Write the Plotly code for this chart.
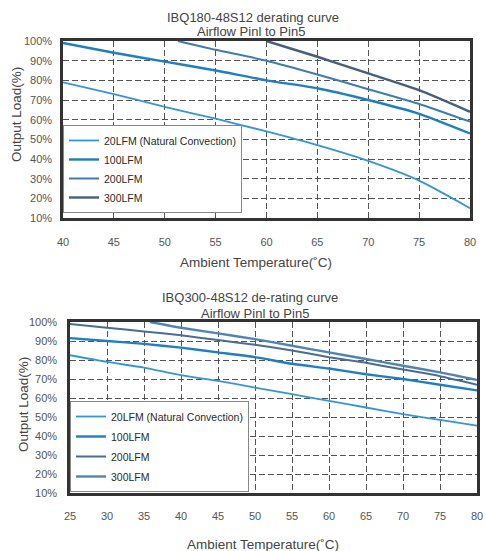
import plotly.graph_objects as go

W, H = 486, 551
OFF = 0  # body margin removed in the page (see post_script)

series_names = ["20LFM (Natural Convection)", "100LFM", "200LFM", "300LFM"]

# ---- Top chart: IBQ180-48S12 ----
top_x20 = [40, 45, 50, 55, 60, 65, 70, 75, 80]
top_y20 = [79, 73, 66.5, 60.5, 54, 47, 39, 29, 15]
top_x100 = [40, 45, 50, 55, 60, 65, 70, 75, 80]
top_y100 = [99, 94, 89.5, 85, 80, 76, 70, 63, 53]
top_x200 = [51.3, 55, 60, 65, 70, 75, 80]
top_y200 = [100, 95.5, 90, 83, 75.5, 68, 59]
top_x300 = [60, 65, 70, 75, 80]
top_y300 = [100, 92, 83.5, 75, 64]

# ---- Bottom chart: IBQ300-48S12 ----
bot_x20 = [25, 30, 35, 40, 45, 50, 55, 60, 65, 70, 75, 80]
bot_y20 = [82.5, 79, 76, 72, 69, 65.5, 62, 58.5, 55, 51.5, 48.5, 45.5]
bot_x100 = [25, 30, 35, 40, 45, 50, 55, 60, 65, 70, 75, 80]
bot_y100 = [91.5, 90, 88.5, 86.5, 84, 81.5, 78, 75.5, 72.5, 70, 67, 64]
bot_x200 = [25, 30, 35, 40, 45, 50, 55, 60, 65, 70, 75, 80]
bot_y200 = [99, 97, 95, 93, 90.5, 88, 85, 81.5, 78.5, 75, 71.5, 67]
bot_x300 = [35.8, 40, 45, 50, 55, 60, 65, 70, 75, 80]
bot_y300 = [100, 97, 94, 91, 87.5, 84, 80.5, 77, 73.5, 69.5]

y_ticks = [10, 20, 30, 40, 50, 60, 70, 80, 90, 100]
y_ticktext = [f"{v}%" for v in y_ticks]

top_colors = ["#3596d6", "#1f7fc0", "#3f7db0", "#455f7c"]
bot_colors = ["#3596d6", "#1f7fc0", "#4a6d92", "#4f84b4"]
widths = [1.8, 2.4, 2.0, 2.4]

fig = go.Figure()

top_sets = [(top_x20, top_y20), (top_x100, top_y100), (top_x200, top_y200), (top_x300, top_y300)]
bot_sets = [(bot_x20, bot_y20), (bot_x100, bot_y100), (bot_x200, bot_y200), (bot_x300, bot_y300)]

for i, (xs, ys) in enumerate(top_sets):
    fig.add_trace(go.Scatter(
        x=xs, y=ys, mode="lines", name=series_names[i],
        line=dict(color=top_colors[i], width=widths[i], shape="spline", smoothing=0.6),
        xaxis="x", yaxis="y", legend="legend", legendgroup=f"t{i}",
    ))
for i, (xs, ys) in enumerate(bot_sets):
    fig.add_trace(go.Scatter(
        x=xs, y=ys, mode="lines", name=series_names[i],
        line=dict(color=bot_colors[i], width=widths[i], shape="spline", smoothing=0.6),
        xaxis="x2", yaxis="y2", legend="legend2", legendgroup=f"b{i}",
    ))


def px(x):
    return (x - OFF) / W


def py(y):
    return 1 - (y - OFF) / H


tick_font = dict(family="Liberation Sans, Arial, sans-serif", size=11, color="#555555")
axis_common = dict(
    showline=True, mirror=True, linewidth=2.5, linecolor="#333333",
    showgrid=True, gridcolor="#555555", gridwidth=1, griddash="6px,3px",
    zeroline=False, ticks="", tickfont=tick_font, fixedrange=True, automargin=False,
)
legend_font = dict(family="Liberation Sans, Arial, sans-serif", size=10.5, color="#2a2a2a")

fig.update_layout(
    width=W, height=H,
    margin=dict(l=0, r=0, t=0, b=0, pad=0, autoexpand=False),
    paper_bgcolor="white", plot_bgcolor="white",
    showlegend=True,
    xaxis=dict(domain=[px(63), px(470)], range=[40, 80], dtick=5, tick0=40,
               anchor="y", ticklabelstandoff=12, **axis_common),
    yaxis=dict(domain=[py(218), py(41)], range=[10, 100], tickvals=y_ticks,
               ticktext=y_ticktext, anchor="x", ticklabelstandoff=6, **axis_common),
    xaxis2=dict(domain=[px(70), px(477)], range=[25, 80], dtick=5, tick0=25,
                anchor="y2", ticklabelstandoff=11, **axis_common),
    yaxis2=dict(domain=[py(493), py(322)], range=[10, 100], tickvals=y_ticks,
                ticktext=y_ticktext, anchor="x2", ticklabelstandoff=8, **axis_common),
    legend=dict(x=px(63), y=py(213), xanchor="left", yanchor="bottom",
                bgcolor="white", bordercolor="#888888", borderwidth=1,
                font=legend_font, tracegroupgap=0, itemwidth=30),
    legend2=dict(x=px(70), y=py(492), xanchor="left", yanchor="bottom",
                 bgcolor="white", bordercolor="#888888", borderwidth=1,
                 font=legend_font, tracegroupgap=1, itemwidth=30),
)

title_font = dict(family="Liberation Sans, Arial, sans-serif", size=13, color="#444444")
label_font = dict(family="Liberation Sans, Arial, sans-serif", size=13.5, color="#444444")

annots = [
    ("IBQ180-48S12 derating curve", 253, 17, title_font, 0),
    ("Airflow Pinl to Pin5", 251, 32, title_font, 0),
    ("IBQ300-48S12 de-rating curve", 250, 297, title_font, 0),
    ("Airflow Pinl to Pin5", 255, 313, title_font, 0),
    ("Ambient Temperature(˚C)", 256, 262, label_font, 0),
    ("Ambient Temperature(˚C)", 263, 544, label_font, 0),
    ("Output Load(%)", 17, 115, label_font, -90),
    ("Output Load(%)", 23, 405, label_font, -90),
]
for text, x, y, f, ang in annots:
    fig.add_annotation(text=text, x=px(x), y=py(y), xref="paper", yref="paper",
                       showarrow=False, font=f, textangle=ang,
                       xanchor="center", yanchor="middle")

fig.write_html(
    "out.html",
    config={"displayModeBar": False},
    post_script="document.body.style.margin='0';document.body.style.overflow='hidden';",
)
